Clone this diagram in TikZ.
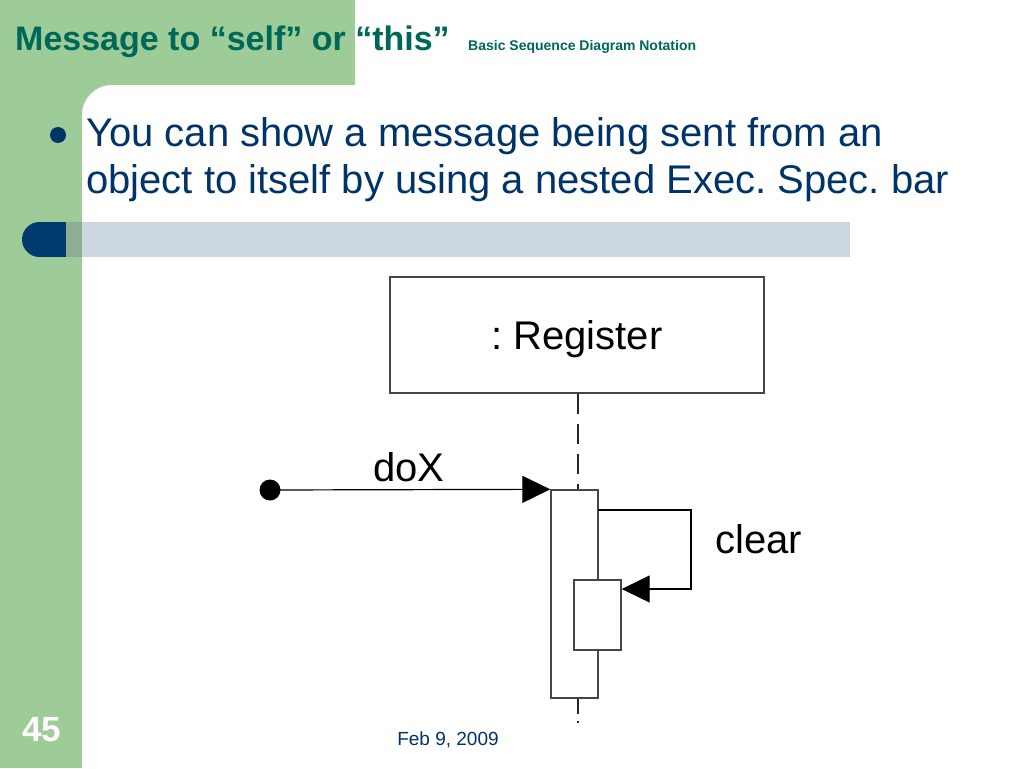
\documentclass[tikz,border=0pt]{standalone}
\usepackage{fontspec}
\setmainfont{Liberation Sans}
\usetikzlibrary{arrows.meta}
\frenchspacing
\definecolor{slidegreen}{RGB}{157,204,152}
\definecolor{overlapgreen}{RGB}{141,174,146}
\definecolor{stripegray}{RGB}{204,214,224}
\definecolor{capblue}{RGB}{0,58,112}
\definecolor{titleteal}{RGB}{0,104,88}
\definecolor{bodyblue}{RGB}{0,52,104}
\definecolor{linegray}{RGB}{70,70,70}
\tikzset{
  objbox/.style={draw=linegray, line width=1.4pt, fill=white, minimum width=374pt, minimum height=116pt, inner sep=0pt, text height=28pt, text depth=0pt, font=\fontsize{40}{46}\selectfont},
  execbar/.style={draw=linegray, line width=1.4pt, fill=white, inner sep=0pt},
  lifeline/.style={line width=2pt, black!85, dash pattern=on 20pt off 10pt},
  msg/.style={line width=1.2pt, black, -{Triangle[length=28pt,width=27pt]}},
  difflabel/.style={font=\fontsize{40}{46}\selectfont, anchor=base west, inner sep=0pt},
  startdot/.style={circle, fill=black, minimum size=21pt, inner sep=0pt},
}
\begin{document}
\begin{tikzpicture}[x=1pt,y=-1pt]
\useasboundingbox (0,0) rectangle (1024,768);
% background
\fill[white] (0,0) rectangle (1024,768);
\fill[slidegreen] (0,0) rectangle (355,85);
\fill[slidegreen] (0,0) rectangle (82,768);
\fill[slidegreen] (82,85) rectangle (120,120);
\fill[white] (82,768) [rounded corners=30pt] -- (82,85) [sharp corners] -- (354,85) -- (354,768) -- cycle;
% title
\node[anchor=base west, inner sep=0pt, text=titleteal, font=\bfseries\fontsize{34}{40}\selectfont] (title) at (15,50) {Message to “self” or “this”};
\node[anchor=base west, inner sep=0pt, text=titleteal, font=\bfseries\fontsize{14}{17}\selectfont] (subtitle) at (468,50) {Basic Sequence Diagram Notation};
% bullet
\node[circle, fill=bodyblue, minimum size=16pt, inner sep=0pt] (bullet) at (58,135) {};
\node[anchor=base west, inner sep=0pt, text=bodyblue, font=\fontsize{40}{47}\selectfont] (body1) at (86,146) {You can show a message being sent from an};
\node[anchor=base west, inner sep=0pt, text=bodyblue, font=\fontsize{40}{47}\selectfont] (body2) at (86,193) {object to itself by using a nested Exec. Spec. bar};
% stripe
\fill[stripegray] (82,222) rectangle (850,257);
\fill[overlapgreen] (66,222) rectangle (82,257);
\fill[capblue] (39.5,239.5) circle[radius=17.5];
\fill[capblue] (39.5,222) rectangle (66,257);
% diagram
\node[objbox] (reg) at (577,335) {: Register};
\node[execbar, minimum width=47pt, minimum height=208pt] (outer) at (574.5,594) {};
\node[execbar, minimum width=47pt, minimum height=70pt] (inner) at (597.5,615) {};
\draw[lifeline] (reg.south -| 578,0) -- (578,489);
\draw[lifeline, dash pattern=on 15pt off 7pt] (578,698.5) -- (578,723);
\node[startdot] (start) at (270,490) {};
\coordinate (loopA) at (598,510);
\coordinate (loopB) at (691,510);
\coordinate (loopC) at (691,589);
\draw[msg] (start.center) -- (outer.north west);
\draw[msg] (loopA) -- (loopB) -- (loopC) -- (inner.east |- loopC);
\node[difflabel] (doxlbl) at (373,481) {doX};
\node[difflabel] (clearlbl) at (715,553) {clear};
% footer
\node[anchor=base, inner sep=0pt, text=white, font=\bfseries\fontsize{35}{40}\selectfont] (pagenum) at (42,741) {45};
\node[anchor=base, inner sep=0pt, text=bodyblue, font=\fontsize{19}{22}\selectfont] (date) at (448,745) {Feb 9, 2009};
\end{tikzpicture}
\end{document}
